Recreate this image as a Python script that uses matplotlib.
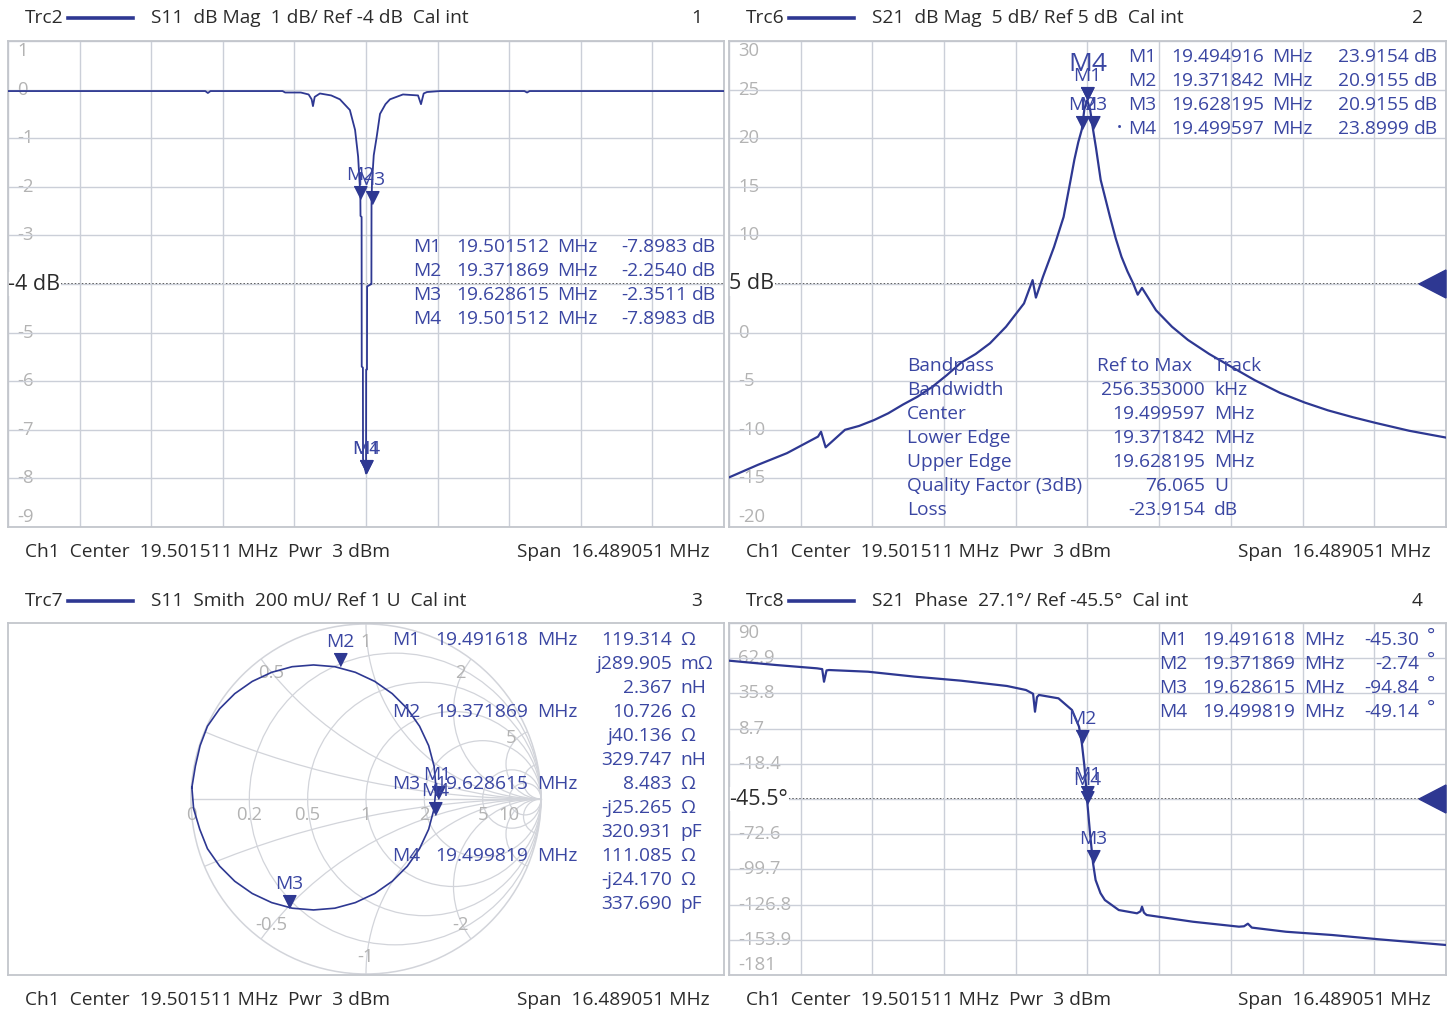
import matplotlib
matplotlib.use("Agg")
import matplotlib.pyplot as plt
import numpy as np
from matplotlib.patches import Circle, Polygon
from matplotlib.lines import Line2D

plt.rcParams['font.family'] = ['Open Sans', 'DejaVu Sans']

W, H = 1456, 1013
BLUE = '#2e3892'
MK = '#3a46a2'
GRID = '#cbcfd8'
SMITH_GRID = '#d2d4da'
FRAME = '#c3c6cc'
TICK = '#b3b3b3'
DARK = '#2b2b2b'
FS = 13.8

F_CENTER = 19.501511
F_SPAN = 16.489051
F_START = F_CENTER - F_SPAN / 2
F_STOP = F_CENTER + F_SPAN / 2

# Trc2: S11 dB Mag (MHz, dB)
s11_freq = [11.257, 15.80, 15.86, 15.92, 17.58, 17.64, 18.00, 18.18, 18.25, 18.28,
            18.32, 18.44, 18.70, 18.90, 19.13, 19.25, 19.32, 19.36, 19.372, 19.375,
            19.400, 19.403, 19.430, 19.433, 19.5015, 19.503, 19.505, 19.524, 19.527, 19.626,
            19.6286, 19.64, 19.68, 19.748, 19.824, 19.95, 20.054, 20.353, 20.70, 20.768,
            20.83, 20.906, 21.205, 23.15, 23.21, 23.27, 27.746]
s11_db = [-0.03, -0.03, -0.07, -0.03, -0.03, -0.06, -0.06, -0.10, -0.20, -0.34,
          -0.15, -0.08, -0.12, -0.20, -0.42, -0.83, -1.38, -2.00, -2.254, -2.60,
          -2.62, -5.70, -5.72, -7.60, -7.8983, -7.60, -5.76, -5.76, -4.05, -4.00,
          -2.3511, -1.90, -1.35, -0.97, -0.50, -0.30, -0.20, -0.10, -0.12, -0.30,
          -0.08, -0.05, -0.03, -0.03, -0.06, -0.03, -0.03]
s11_marks = [("M1", 19.501512, -7.8983), ("M2", 19.371869, -2.2540),
             ("M3", 19.628615, -2.3511), ("M4", 19.501512, -7.8983)]
s11_yticks = ['1', '0', '-1', '-2', '-3', '-4', '-5', '-6', '-7', '-8', '-9']

# Trc6: S21 dB Mag (MHz, dB)
s21_freq = [11.257, 11.924, 12.591, 13.304, 13.373, 13.479, 13.925, 14.25, 14.592, 14.92,
            15.259, 15.59, 15.926, 16.26, 16.592, 16.93, 17.259, 17.627, 18.041, 18.239,
            18.315, 18.478, 18.731, 18.952, 19.113, 19.20, 19.29, 19.371842, 19.43, 19.494916,
            19.56, 19.628195, 19.697, 19.805, 20.019, 20.15, 20.283, 20.42, 20.548, 20.656,
            20.755, 21.077, 21.445, 21.813, 22.3, 22.802, 23.35, 23.929, 24.5, 25.032,
            25.6, 26.136, 26.9, 27.746]
s21_db = [-14.9, -13.6, -12.4, -10.7, -10.2, -11.8, -10.0, -9.6, -9.0, -8.3,
          -7.4, -6.6, -5.6, -4.4, -3.1, -2.2, -1.1, 0.6, 3.0, 5.4,
          3.6, 5.75, 8.8, 11.9, 15.7, 17.8, 19.6, 20.9155, 23.0, 23.9154,
          23.0, 20.9155, 19.0, 15.7, 11.9, 9.7, 7.8, 6.3, 5.1, 3.9,
          4.6, 2.3, 0.6, -0.76, -2.2, -3.5, -4.9, -6.2, -7.2, -8.0,
          -8.7, -9.3, -10.1, -10.8]
s21_marks = [("M1", 19.494916, 23.9154), ("M2", 19.371842, 20.9155),
             ("M3", 19.628195, 20.9155), ("M4", 19.499597, 23.8999)]
s21_yticks = ['30', '25', '20', '15', '10', '5', '0', '-5', '-10', '-15', '-20']
bandpass_names = ["Bandpass", "Bandwidth", "Center", "Lower Edge", "Upper Edge",
                  "Quality Factor (3dB)", "Loss"]
bandpass_values = ["", "256.353000", "19.499597", "19.371842", "19.628195", "76.065", "-23.9154"]
bandpass_units = ["", "kHz", "MHz", "MHz", "MHz", "U", "dB"]

# Trc7: S11 Smith, reflection coefficient (re, im)
smith_re = [-0.995, -0.975, -0.948, -0.906, -0.836, -0.750, -0.650, -0.539, -0.422, -0.300,
            -0.178, -0.061, 0.050, 0.150, 0.236, 0.306, 0.358, 0.389, 0.400, 0.389,
            0.358, 0.306, 0.236, 0.150, 0.050, -0.061, -0.178, -0.300, -0.422, -0.539,
            -0.650, -0.750, -0.836, -0.906, -0.950, -0.985, -0.995]
smith_im = [0.066, 0.188, 0.305, 0.416, 0.516, 0.602, 0.672, 0.724, 0.756, 0.766,
            0.756, 0.724, 0.672, 0.602, 0.516, 0.416, 0.305, 0.188, 0.066, -0.056,
            -0.173, -0.284, -0.384, -0.470, -0.540, -0.592, -0.624, -0.634, -0.624, -0.592,
            -0.540, -0.470, -0.384, -0.284, -0.173, -0.056, 0.066]
# name, MHz, R (ohm), X (ohm), equivalent L/C
smith_marks = [("M1", 19.491618, 119.314, 0.289905, "2.367 nH"),
               ("M2", 19.371869, 10.726, 40.136, "329.747 nH"),
               ("M3", 19.628615, 8.483, -25.265, "320.931 pF"),
               ("M4", 19.499819, 111.085, -24.170, "337.690 pF")]
Z0 = 50.0

# Trc8: S21 Phase (MHz, deg)
ph_freq = [11.257, 12.324, 13.281, 13.40, 13.442, 13.50, 13.557, 14.454, 15.525, 16.592,
           17.650, 18.087, 18.25, 18.294, 18.34, 18.386, 18.834, 19.145, 19.306, 19.371869,
           19.43, 19.491618, 19.499819, 19.56, 19.628615, 19.688, 19.80, 19.901, 20.221, 20.640,
           20.72, 20.755, 20.80, 20.860, 21.928, 22.985, 23.10, 23.19, 23.28, 24.066,
           25.124, 26.196, 27.746]
ph_deg = [61.0, 57.7, 55.1, 54.5, 44.8, 53.5, 53.8, 52.5, 48.7, 45.6,
          41.5, 38.4, 35.5, 21.7, 33.0, 34.6, 32.0, 23.0, 10.2, -2.74,
          -20.0, -45.30, -49.14, -72.0, -94.84, -107.9, -118.0, -123.3, -131.0, -133.5,
          -132.0, -128.4, -133.0, -134.8, -140.0, -143.8, -143.5, -141.5, -144.5, -147.7,
          -150.2, -153.5, -157.9]
ph_marks = [("M1", 19.491618, -45.30), ("M2", 19.371869, -2.74),
            ("M3", 19.628615, -94.84), ("M4", 19.499819, -49.14)]
ph_yticks = ['90', '62.9', '35.8', '8.7', '-18.4', '-45.5', '-72.6', '-99.7', '-126.8', '-153.9', '-181']

headers = [("Trc2", "S11  dB Mag  1 dB/ Ref -4 dB  Cal int", "1"),
           ("Trc6", "S21  dB Mag  5 dB/ Ref 5 dB  Cal int", "2"),
           ("Trc7", "S11  Smith  200 mU/ Ref 1 U  Cal int", "3"),
           ("Trc8", "S21  Phase  27.1°/ Ref -45.5°  Cal int", "4")]
footer_left = "Ch1  Center  19.501511 MHz  Pwr  3 dBm"
footer_right = "Span  16.489051 MHz"

fig = plt.figure(figsize=(W / 100, H / 100), dpi=100)
fig.patch.set_facecolor('white')


def to_fig(x0, y0, x1, y1):
    return [x0 / W, 1 - y1 / H, (x1 - x0) / W, (y1 - y0) / H]


def ftext(x, y, s, **kw):
    kw.setdefault('fontsize', FS)
    kw.setdefault('va', 'center')
    fig.text(x / W, 1 - y / H, s, **kw)


TRI = [(-0.5, 1.0), (0.5, 1.0), (0.0, 0.0)]


def draw_marker(ax, name, x, y, size=FS, lift=24):
    ax.plot([x], [y], marker=TRI, ms=18.5, color=BLUE, mec=BLUE, ls='none',
            clip_on=False, zorder=6)
    ax.annotate(name, (x, y), xytext=(0, lift), textcoords='offset pixels',
                ha='center', va='center', color=MK, fontsize=size, zorder=6)


def cart_panel(box, lo, hi, labels, ref_idx, ref_text):
    ax = fig.add_axes(to_fig(*box))
    ax.set_xlim(F_START, F_STOP)
    ax.set_ylim(lo, hi)
    ax.set_xticks(np.linspace(F_START, F_STOP, 11))
    ax.set_yticks(np.linspace(lo, hi, 11))
    ax.grid(True, color=GRID, lw=1.0)
    ax.tick_params(length=0, labelleft=False, labelbottom=False)
    for sp in ax.spines.values():
        sp.set_color(FRAME)
        sp.set_linewidth(1.3)
    levels = np.linspace(hi, lo, 11)
    for k, (v, s) in enumerate(zip(levels, labels)):
        if k == ref_idx:
            continue
        dy = -10 if k == 0 else (10 if k == 10 else 0)
        ax.annotate(s, xy=(0, v), xycoords=ax.get_yaxis_transform(), xytext=(9, dy),
                    textcoords='offset pixels', ha='left', va='center', color=TICK,
                    fontsize=13.3, zorder=1,
                    bbox=dict(boxstyle='square,pad=0.08', fc='white', ec='none'))
    ref = levels[ref_idx]
    ax.axhline(ref, color='#111111', lw=1.1, ls=(0, (1, 1.3)), zorder=1.5)
    ax.annotate(ref_text, xy=(0, ref), xycoords=ax.get_yaxis_transform(), xytext=(0, 0),
                textcoords='offset pixels', ha='left', va='center', color=DARK,
                fontsize=15.5, zorder=1.6,
                bbox=dict(boxstyle='square,pad=0.05', fc='white', ec='none'))
    return ax


def ref_arrow(ax, level):
    y = ax.transData.transform((F_STOP, level))[1]
    x1 = ax.transAxes.transform((1, 0))[0]
    tri = Polygon([(x1 - 27, y), (x1, y + 14), (x1, y - 14)], closed=True,
                  transform=None, fc=BLUE, ec=BLUE, zorder=7, clip_on=False)
    ax.add_artist(tri)


# headers / footers
head_pos = [(25, 18), (746, 18), (25, 601), (746, 601)]
for (trc, desc, num), (x, y) in zip(headers, head_pos):
    ftext(x, y, trc, color=DARK)
    fig.add_artist(Line2D([(x + 43) / W, (x + 108) / W], [1 - y / H, 1 - y / H],
                          color=BLUE, lw=2.6))
    ftext(x + 126, y, desc, color=DARK)
    ftext(x + 677, y, num, color=DARK, ha='right')
for x, y in [(25, 552), (746, 552), (25, 1000), (746, 1000)]:
    ftext(x, y, footer_left, color=DARK)
    ftext(x + 685, y, footer_right, color=DARK, ha='right')

# ---- panel 1: S11 magnitude
ax1 = cart_panel((8, 41, 724, 527), -9, 1, s11_yticks, 5, "-4 dB")
ax1.plot(s11_freq, s11_db, color=BLUE, lw=1.3, zorder=3)
for name, f, v in s11_marks:
    draw_marker(ax1, name, f, v)
for i, (name, f, v) in enumerate(s11_marks):
    y = 247 + 24 * i
    ftext(413, y, name, color=MK)
    ftext(456, y, f"{f:.6f}", color=MK)
    ftext(557, y, "MHz", color=MK)
    ftext(687, y, f"{v:.4f}", color=MK, ha='right')
    ftext(692, y, "dB", color=MK)

# ---- panel 2: S21 magnitude with bandpass search
ax2 = cart_panel((729, 41, 1446, 527), -20, 30, s21_yticks, 5, "5 dB")
ax2.plot(s21_freq, s21_db, color=BLUE, lw=1.6, zorder=3)
ref_arrow(ax2, 5)
for name, f, v in s21_marks:
    if name == "M4":
        draw_marker(ax2, name, f, v, size=19, lift=36)
    else:
        draw_marker(ax2, name, f, v)
for i, (name, f, v) in enumerate(s21_marks):
    y = 57 + 24 * i
    if name == "M4":
        ftext(1119, y, "•", color=MK, ha='center', fontsize=10)
    ftext(1128, y, name, color=MK)
    ftext(1171, y, f"{f:.6f}", color=MK)
    ftext(1272, y, "MHz", color=MK)
    ftext(1409, y, f"{v:.4f}", color=MK, ha='right')
    ftext(1414, y, "dB", color=MK)
for i in range(len(bandpass_names)):
    y = 366 + 24 * i
    ftext(907, y, bandpass_names[i], color=MK)
    if i == 0:
        ftext(1097, y, "Ref to Max", color=MK)
        ftext(1214, y, "Track", color=MK)
    else:
        ftext(1205, y, bandpass_values[i], color=MK, ha='right')
        ftext(1214, y, bandpass_units[i], color=MK)

# ---- panel 3: Smith chart
ax3 = fig.add_axes(to_fig(8, 623, 724, 975))
ax3.set_xlim(-358 / 175, 358 / 175)
ax3.set_ylim(-176 / 175, 176 / 175)
ax3.set_xticks([])
ax3.set_yticks([])
for sp in ax3.spines.values():
    sp.set_color(FRAME)
    sp.set_linewidth(1.3)
unit = Circle((0, 0), 1.0, fill=False, ec=SMITH_GRID, lw=1.1)
ax3.add_patch(unit)
for r in [0.2, 0.5, 1, 2, 5, 10]:
    ax3.add_patch(Circle((r / (1 + r), 0), 1 / (1 + r), fill=False, ec=SMITH_GRID, lw=0.9))
for xv in [0.2, 0.5, 1, 2, 5, 10]:
    for sgn in (1, -1):
        arc = Circle((1, sgn / xv), 1 / xv, fill=False, ec=SMITH_GRID, lw=0.9)
        ax3.add_patch(arc)
        arc.set_clip_path(unit)
ax3.plot([-1, 1], [0, 0], color=SMITH_GRID, lw=1.0)
for lab, r in [("0", 0), ("0.2", 0.2), ("0.5", 0.5), ("1", 1), ("2", 2), ("5", 5), ("10", 10)]:
    ax3.annotate(lab, ((r - 1) / (r + 1), 0), xytext=(0, -16), textcoords='offset pixels',
                 ha='center', va='center', color=TICK, fontsize=13.3)
for lab, xv in [("0.5", 0.5), ("1", 1), ("2", 2), ("5", 5), ("-0.5", -0.5), ("-1", -1), ("-2", -2)]:
    g = (1j * xv - 1) / (1j * xv + 1)
    ax3.text(0.9 * g.real, 0.9 * g.imag, lab, ha='center', va='center', color=TICK, fontsize=13.3)
ax3.plot(smith_re, smith_im, color=BLUE, lw=1.2, zorder=3)
for name, f, R, X, lc in smith_marks:
    g = (complex(R, X) - Z0) / (complex(R, X) + Z0)
    draw_marker(ax3, name, g.real, g.imag)
for i, (name, f, R, X, lc) in enumerate(smith_marks):
    y = 640 + 72 * i
    ftext(392, y, name, color=MK)
    ftext(435, y, f"{f:.6f}", color=MK)
    ftext(537, y, "MHz", color=MK)
    if abs(X) < 1:
        xs, xu = f"j{X * 1000:.3f}", "mΩ"
    else:
        xs, xu = (f"j{X:.3f}" if X > 0 else f"-j{-X:.3f}"), "Ω"
    val, unit_lc = lc.split()
    for k, (s, u) in enumerate([(f"{R:.3f}", "Ω"), (xs, xu), (val, unit_lc)]):
        ftext(672, y + 24 * k, s, color=MK, ha='right')
        ftext(680, y + 24 * k, u, color=MK)

# ---- panel 4: S21 phase
ax4 = cart_panel((729, 623, 1446, 975), -181, 90, ph_yticks, 5, "-45.5°")
ax4.plot(ph_freq, ph_deg, color=BLUE, lw=1.6, zorder=3)
ref_arrow(ax4, -45.5)
for name, f, v in ph_marks:
    draw_marker(ax4, name, f, v)
for i, (name, f, v) in enumerate(ph_marks):
    y = 640 + 24 * i
    ftext(1159, y, name, color=MK)
    ftext(1202, y, f"{f:.6f}", color=MK)
    ftext(1304, y, "MHz", color=MK)
    ftext(1419, y, f"{v:.2f}", color=MK, ha='right')
    ftext(1427, y - 4, "°", color=MK)

fig.savefig("out.png", dpi=100)
